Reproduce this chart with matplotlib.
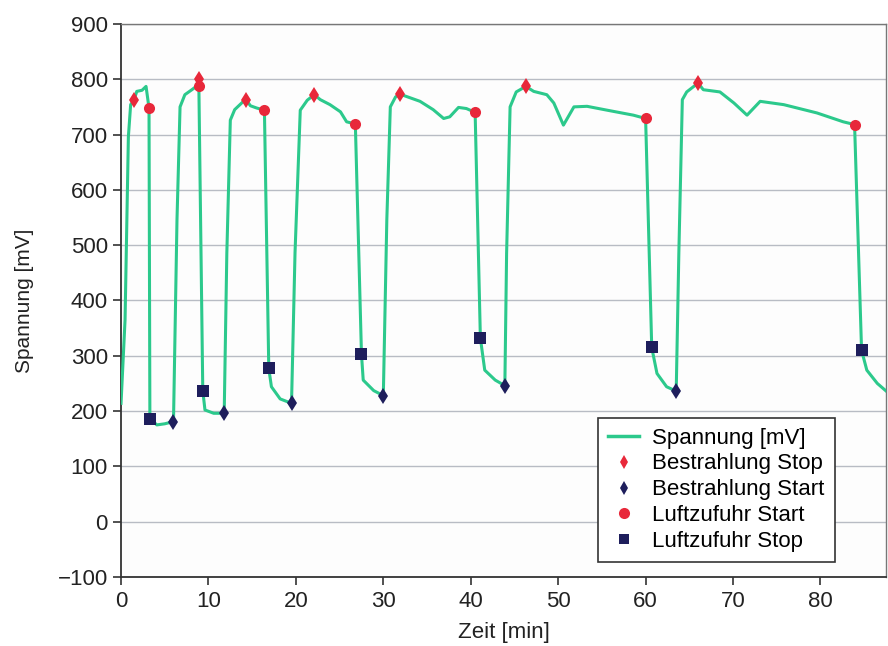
import matplotlib
matplotlib.use("Agg")
import matplotlib.pyplot as plt
from matplotlib.lines import Line2D

plt.rcParams['font.family'] = ['Liberation Sans', 'DejaVu Sans']

# Voltage curve (time in min, voltage in mV)
zeit = [0.0, 0.46, 0.84, 1.1, 1.5, 1.8, 2.4, 2.86, 3.2, 3.3,
        4.1, 5.0, 6.0, 6.4, 6.75, 7.3, 8.1, 8.6, 8.9, 9.35,
        9.6, 10.6, 11.8, 12.1, 12.5, 13.0, 14.0, 14.3, 14.8, 15.5, 16.4, 16.9,
        17.2, 18.2, 19.5, 19.9, 20.5, 21.3, 22.1, 22.8, 23.9, 25.1, 25.8, 26.8, 27.5,
        27.7, 28.9, 30.0, 30.4, 30.8, 31.4, 31.9, 34.2, 35.7, 36.9, 37.6, 38.6, 39.5, 40.5, 41.1,
        41.6, 42.8, 43.9, 44.1, 44.5, 45.2, 46.3, 47.2, 48.7, 49.5, 50.6, 51.8, 53.3, 55.6, 58.6, 60.0, 60.7,
        61.3, 62.4, 63.5, 63.8, 64.2, 64.7, 66.0, 66.6, 68.5, 70.1, 71.6, 73.1, 75.8, 79.6, 82.6, 83.9, 84.7,
        85.3, 86.5, 87.6]
spannung = [214, 365, 696, 754, 763, 778, 780, 787, 748, 186,
            175, 177, 181, 546, 750, 772, 781, 787, 790, 237,
            202, 196, 196, 485, 726, 745, 760, 763, 752, 748, 744, 277,
            244, 222, 214, 486, 744, 762, 772, 763, 754, 741, 723, 719, 303,
            256, 237, 228, 546, 750, 768, 773, 760, 745, 729, 732, 749, 747, 740, 332,
            274, 256, 246, 485, 750, 777, 787, 778, 772, 757, 717, 750, 751, 744, 735, 729, 315,
            268, 244, 236, 485, 763, 777, 793, 781, 777, 757, 735, 760, 754, 739, 723, 718, 310,
            274, 250, 235]

# Event markers
bstop_x = [1.5, 8.9, 14.3, 22.1, 31.9, 46.3, 66.0]
bstop_y = [763, 800, 763, 772, 773, 787, 793]
bstart_x = [6.0, 11.8, 19.5, 30.0, 43.9, 63.5]
bstart_y = [181, 196, 214, 228, 246, 236]
lstart_x = [3.2, 8.9, 16.4, 26.8, 40.5, 60.0, 83.9]
lstart_y = [748, 788, 744, 719, 740, 729, 718]
lstop_x = [3.3, 9.35, 16.9, 27.5, 41.1, 60.7, 84.7]
lstop_y = [186, 237, 277, 303, 332, 315, 310]

yticks = list(range(-100, 1000, 100))
xticks = list(range(0, 90, 10))

green = '#2cc98c'
red = '#e8283a'
navy = '#1e1e5c'
fs = 16

fig = plt.figure(figsize=(8.88, 6.46), dpi=100)
fig.patch.set_facecolor('white')
ax = fig.add_axes([0.1363, 0.1068, 0.8615, 0.8562])
ax.set_facecolor('#fdfdfd')

ax.plot(zeit, spannung, color=green, lw=2.2, zorder=3)
ax.plot(bstop_x, bstop_y, linestyle='none', marker='d', color=red, ms=8, mew=0, zorder=4)
ax.plot(bstart_x, bstart_y, linestyle='none', marker='d', color=navy, ms=8, mew=0, zorder=4)
ax.plot(lstart_x, lstart_y, linestyle='none', marker='o', color=red, ms=8, mew=0, zorder=4)
ax.plot(lstop_x, lstop_y, linestyle='none', marker='s', color=navy, ms=8.5, mew=0, zorder=4)

ax.set_xlim(0, 87.5)
ax.set_ylim(-100, 900)
ax.set_xticks(xticks)
ax.set_yticks(yticks)
ax.set_yticklabels([str(v).replace('-', '\u2212') for v in yticks])
ax.yaxis.grid(True, color='#b8bcc4', lw=1.0)
ax.set_axisbelow(True)
ax.tick_params(axis='both', direction='out', length=6, width=1.2, colors='#333333', labelsize=fs, labelcolor='#222222')
ax.tick_params(axis='x', pad=4)
for s in ['left', 'bottom']:
    ax.spines[s].set_color('#333333')
    ax.spines[s].set_linewidth(1.3)
for s in ['top', 'right']:
    ax.spines[s].set_color('#777777')
    ax.spines[s].set_linewidth(1.0)

ax.set_ylabel('Spannung [mV]', fontsize=15, color='#222222', labelpad=17)
ax.set_xlabel('Zeit [min]', fontsize=fs, color='#222222', labelpad=7)

handles = [
    Line2D([], [], color=green, lw=2.5),
    Line2D([], [], linestyle='none', marker='d', color=red, ms=7, mew=0),
    Line2D([], [], linestyle='none', marker='d', color=navy, ms=7, mew=0),
    Line2D([], [], linestyle='none', marker='o', color=red, ms=8, mew=0),
    Line2D([], [], linestyle='none', marker='s', color=navy, ms=7, mew=0),
]
labels = ['Spannung [mV]', 'Bestrahlung Stop', 'Bestrahlung Start', 'Luftzufuhr Start', 'Luftzufuhr Stop']
leg = ax.legend(handles, labels, loc='lower right', bbox_to_anchor=(0.933, 0.027),
                borderaxespad=0, fontsize=fs, frameon=True, fancybox=False, handlelength=1.4,
                handletextpad=0.6, labelspacing=0.22, borderpad=0.45)
leg.get_frame().set_edgecolor('#333333')
leg.get_frame().set_linewidth(1.2)
leg.get_frame().set_facecolor('white')
leg.get_frame().set_alpha(1)

fig.savefig('out.png', dpi=100)
